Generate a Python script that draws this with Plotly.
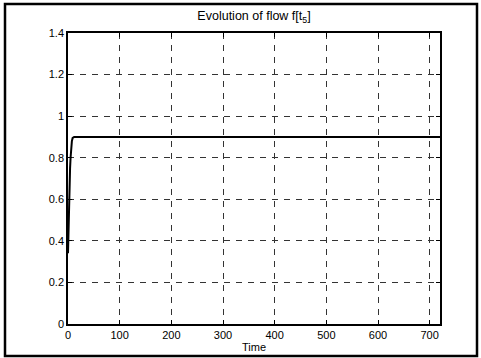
import plotly.graph_objects as go

time = [0, 1, 2.5, 4, 5, 6, 7.5, 9, 12, 15, 20, 50, 100, 200, 300, 400, 500, 600, 700, 720]
flow = [0.34, 0.5, 0.65, 0.75, 0.80, 0.85, 0.88, 0.895, 0.9, 0.9, 0.9, 0.9, 0.9, 0.9, 0.9, 0.9, 0.9, 0.9, 0.9, 0.9]

x_ticks = [0, 100, 200, 300, 400, 500, 600, 700]
y_ticks = [0, 0.2, 0.4, 0.6, 0.8, 1, 1.2, 1.4]
y_labels = ["0", "0.2", "0.4", "0.6", "0.8", "1", "1.2", "1.4"]

font = dict(family="Liberation Sans, Arial, sans-serif", size=11, color="black")

fig = go.Figure()
fig.add_trace(go.Scatter(x=time, y=flow, mode="lines",
                         line=dict(color="black", width=2), showlegend=False))

axis_common = dict(showline=True, linecolor="black", linewidth=1.5, mirror="ticks",
                   ticks="inside", ticklen=4, tickcolor="black",
                   showgrid=True, gridcolor="#333333", gridwidth=1, griddash="6px,6px",
                   zeroline=False, tickfont=font, automargin=False)

fig.update_layout(
    width=481, height=358,
    margin=dict(l=68, r=41, t=33, b=34, autoexpand=False),
    paper_bgcolor="white", plot_bgcolor="white",
    font=font,
    title=dict(text="Evolution of flow f[t<sub>5</sub>]", x=0.5, xanchor="center",
               xref="paper", y=1 - 16/358, yanchor="middle", font=dict(size=12.5)),
    xaxis=dict(range=[0, 720], tickvals=x_ticks, title=dict(text="Time", standoff=1, font=font),
               **axis_common),
    yaxis=dict(range=[0, 1.4], tickvals=y_ticks, ticktext=y_labels, **axis_common),
    shapes=[dict(type="rect", xref="paper", yref="paper",
                 x0=-63/372, x1=1 + 37/372, y0=-32/291, y1=1 + 29/291,
                 line=dict(color="black", width=2.5))],
)

fig.write_html("out.html", config={"displayModeBar": False},
               post_script="document.body.style.margin='0';document.body.style.overflow='hidden';")
